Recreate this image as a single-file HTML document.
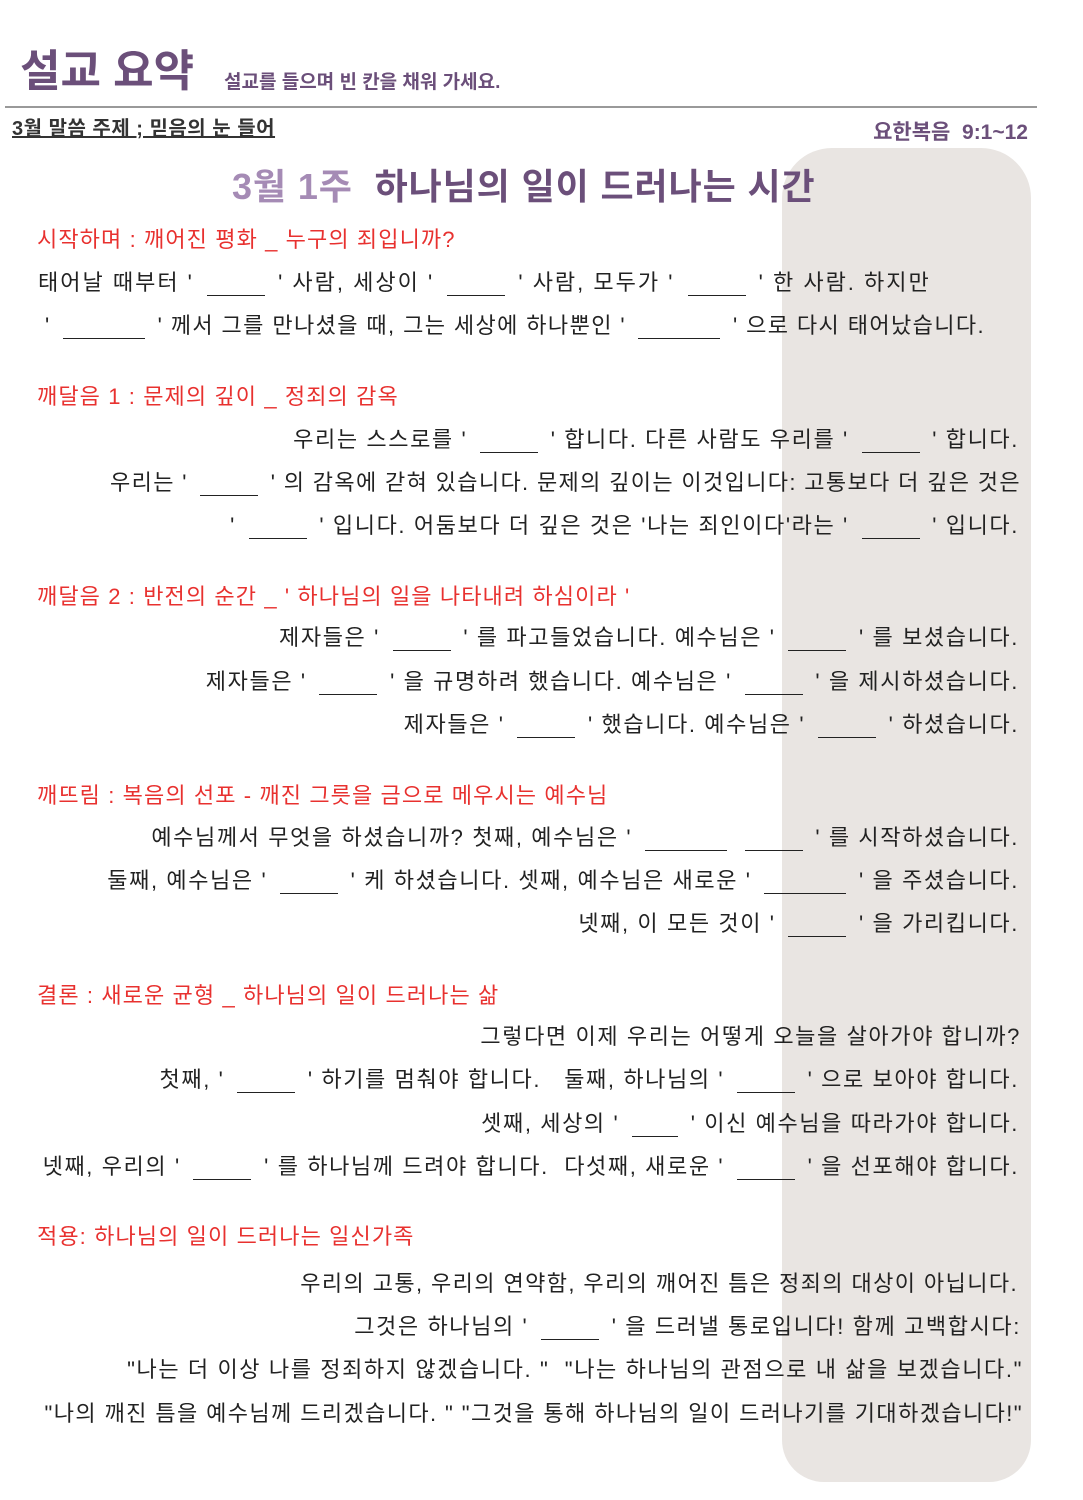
<!DOCTYPE html>
<html><head><meta charset="utf-8"><style>
body{margin:0;background:#fff;}
#p{position:relative;width:1083px;height:1500px;overflow:hidden;font-family:"Liberation Sans","Noto Sans CJK KR",sans-serif;color:#222;}
.panel{position:absolute;left:782px;top:148px;width:249px;height:1334px;background:#e9e5e2;border-radius:50px 50px 42px 42px;}
.l{position:absolute;height:30px;line-height:30px;font-size:22px;white-space:nowrap;letter-spacing:1.6px;}
.r{right:64px;}
.h{color:#e8312f;font-size:22px;left:37px;letter-spacing:1.1px;}
.b{display:inline-block;height:18px;border-bottom:1.5px solid #222;vertical-align:-6px;margin:0 5px;}
</style></head><body><div id="p">
<div class="panel"></div>
<div class="l" style="left:20px;top:44px;height:56px;line-height:56px;font-size:44px;font-weight:bold;color:#6b4f7a;letter-spacing:0;">설교 요약</div>
<div class="l" style="left:224px;top:68px;font-size:19px;color:#6b4f7a;font-weight:bold;letter-spacing:0;">설교를 들으며 빈 칸을 채워 가세요.</div>
<div style="position:absolute;left:5px;top:106px;width:1032px;height:2px;background:#999;"></div>
<div class="l" style="left:12px;top:114px;font-size:20px;font-weight:bold;text-decoration:underline;color:#333;letter-spacing:0.5px;">3월 말씀 주제 ; 믿음의 눈 들어</div>
<div class="l" style="right:55px;top:118px;font-size:21px;font-weight:bold;color:#6b4f7a;letter-spacing:0;">요한복음&nbsp; 9:1~12</div>
<div class="l" style="left:232px;top:164px;height:46px;line-height:46px;font-size:36px;font-weight:bold;color:#6b4f7a;letter-spacing:0.9px;"><span style="color:#a58bb5">3월 1주</span>&nbsp; 하나님의 일이 드러나는 시간</div>

<div class="l h" style="top:225px;">시작하며 : 깨어진 평화 _ 누구의 죄입니까?</div>
<div class="l" style="left:38px;top:268px;letter-spacing:2px;">태어날 때부터 ' <span class="b" style="width:58px"></span> ' 사람, 세상이 ' <span class="b" style="width:58px"></span> ' 사람, 모두가 ' <span class="b" style="width:58px"></span> ' 한 사람. 하지만</div>
<div class="l" style="left:45px;top:311px;letter-spacing:1.4px;">' <span class="b" style="width:82px"></span> ' 께서 그를 만나셨을 때, 그는 세상에 하나뿐인 ' <span class="b" style="width:82px"></span> ' 으로 다시 태어났습니다.</div>

<div class="l h" style="top:382px;">깨달음 1 : 문제의 깊이 _ 정죄의 감옥</div>
<div class="l r" style="top:425px;">우리는 스스로를 ' <span class="b" style="width:58px"></span> ' 합니다. 다른 사람도 우리를 ' <span class="b" style="width:58px"></span> ' 합니다.</div>
<div class="l" style="right:62px;top:468px;letter-spacing:1.35px;">우리는 ' <span class="b" style="width:58px"></span> ' 의 감옥에 갇혀 있습니다. 문제의 깊이는 이것입니다: 고통보다 더 깊은 것은</div>
<div class="l r" style="top:511px;">' <span class="b" style="width:58px"></span> ' 입니다. 어둠보다 더 깊은 것은 '나는 죄인이다'라는 ' <span class="b" style="width:58px"></span> ' 입니다.</div>

<div class="l h" style="top:582px;">깨달음 2 : 반전의 순간 _ ' 하나님의 일을 나타내려 하심이라 '</div>
<div class="l r" style="top:623px;">제자들은 ' <span class="b" style="width:58px"></span> ' 를 파고들었습니다. 예수님은 ' <span class="b" style="width:58px"></span> ' 를 보셨습니다.</div>
<div class="l r" style="top:667px;">제자들은 ' <span class="b" style="width:58px"></span> ' 을 규명하려 했습니다. 예수님은 ' <span class="b" style="width:58px"></span> ' 을 제시하셨습니다.</div>
<div class="l r" style="top:710px;">제자들은 ' <span class="b" style="width:58px"></span> ' 했습니다. 예수님은 ' <span class="b" style="width:58px"></span> ' 하셨습니다.</div>

<div class="l h" style="top:781px;">깨뜨림 : 복음의 선포 - 깨진 그릇을 금으로 메우시는 예수님</div>
<div class="l r" style="top:823px;">예수님께서 무엇을 하셨습니까? 첫째, 예수님은 ' <span class="b" style="width:82px"></span> <span class="b" style="width:58px"></span> ' 를 시작하셨습니다.</div>
<div class="l r" style="top:866px;">둘째, 예수님은 ' <span class="b" style="width:58px"></span> ' 케 하셨습니다. 셋째, 예수님은 새로운 ' <span class="b" style="width:82px"></span> ' 을 주셨습니다.</div>
<div class="l r" style="top:909px;">넷째, 이 모든 것이 ' <span class="b" style="width:58px"></span> ' 을 가리킵니다.</div>

<div class="l h" style="top:981px;">결론 : 새로운 균형 _ 하나님의 일이 드러나는 삶</div>
<div class="l" style="right:62px;top:1022px;">그렇다면 이제 우리는 어떻게 오늘을 살아가야 합니까?</div>
<div class="l r" style="top:1065px;">첫째, ' <span class="b" style="width:58px"></span> ' 하기를 멈춰야 합니다. &nbsp; 둘째, 하나님의 ' <span class="b" style="width:58px"></span> ' 으로 보아야 합니다.</div>
<div class="l r" style="top:1109px;">셋째, 세상의 ' <span class="b" style="width:46px"></span> ' 이신 예수님을 따라가야 합니다.</div>
<div class="l r" style="top:1152px;">넷째, 우리의 ' <span class="b" style="width:58px"></span> ' 를 하나님께 드려야 합니다. &nbsp;다섯째, 새로운 ' <span class="b" style="width:58px"></span> ' 을 선포해야 합니다.</div>

<div class="l h" style="top:1222px;">적용: 하나님의 일이 드러나는 일신가족</div>
<div class="l" style="right:65px;top:1269px;letter-spacing:1.4px;">우리의 고통, 우리의 연약함, 우리의 깨어진 틈은 정죄의 대상이 아닙니다.</div>
<div class="l" style="right:62px;top:1312px;">그것은 하나님의 ' <span class="b" style="width:58px"></span> ' 을 드러낼 통로입니다! 함께 고백합시다:</div>
<div class="l" style="right:60px;top:1355px;">"나는 더 이상 나를 정죄하지 않겠습니다. " &nbsp;"나는 하나님의 관점으로 내 삶을 보겠습니다."</div>
<div class="l" style="right:60px;top:1399px;letter-spacing:1.4px;">"나의 깨진 틈을 예수님께 드리겠습니다. " "그것을 통해 하나님의 일이 드러나기를 기대하겠습니다!"</div>
</div></body></html>
